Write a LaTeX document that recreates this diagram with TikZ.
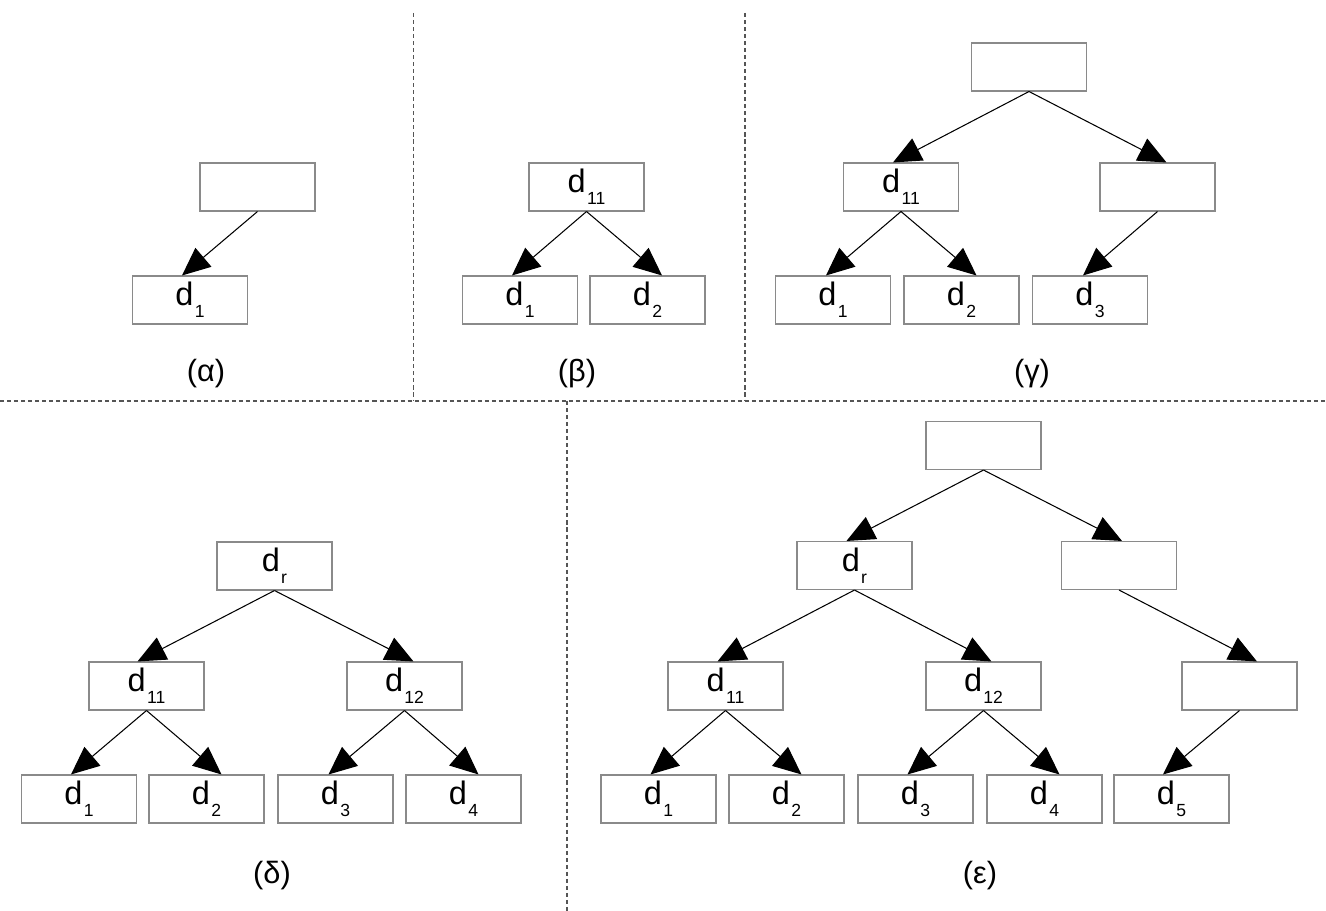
\documentclass[tikz,border=0pt]{standalone}
\usepackage{fontspec}
\setmainfont{Liberation Sans}
\usetikzlibrary{arrows.meta,calc}
\definecolor{boxgray}{HTML}{8A8A8A}
\definecolor{sepgray}{HTML}{555555}
\newcommand{\dsub}[1]{d\kern0.7pt\raisebox{-6.8pt}{\fontsize{10}{11}\selectfont #1}}
\begin{document}
\begin{tikzpicture}[x=0.02cm,y=-0.02cm,
  box/.style={draw=boxgray, line width=0.6pt, minimum width=2.3cm, minimum height=0.96cm, inner sep=0pt, font=\fontsize{18.5}{20}\selectfont},
  arr/.style={-{Triangle[length=16pt,width=14pt]}, line width=0.6pt},
  sep/.style={draw=sepgray, line width=0.6pt, dash pattern=on 2.3pt off 1.7pt},
  lab/.style={font=\fontsize{17.5}{20}\selectfont}]
\useasboundingbox (0,0) rectangle (1326,911);

% separators
\draw[sep] (413.5,13) -- (413.5,401);
\draw[sep] (745,13) -- (745,401);
\draw[sep] (0,401) -- (1326,401);
\draw[sep] (567,401) -- (567,911);

% (alpha)
\node[box] (aT) at (257.5,187) {};
\node[box] (a1) at (190,300) {\dsub{1}};
\draw[arr] (aT.south) -- ($(a1.north)+(-8,0)$);
\node[lab] (la) at (206,374) {(α)};

% (beta)
\node[box] (bT) at (586.5,187) {\dsub{11}};
\node[box] (b1) at (520,300) {\dsub{1}};
\node[box] (b2) at (647.5,300) {\dsub{2}};
\draw[arr] (bT.south) -- ($(b1.north)+(-8,0)$);
\draw[arr] (bT.south) -- ($(b2.north)+(14.5,0)$);
\node[lab] (lb) at (577,374) {(β)};

% (gamma)
\node[box] (gT) at (1029,67) {};
\node[box] (g11) at (901,187) {\dsub{11}};
\node[box] (gR) at (1157.5,187) {};
\node[box] (g1) at (833,300) {\dsub{1}};
\node[box] (g2) at (961.5,300) {\dsub{2}};
\node[box] (g3) at (1090,300) {\dsub{3}};
\draw[arr] (gT.south) -- ($(g11.north)+(-8,0)$);
\draw[arr] (gT.south) -- ($(gR.north)+(9,0)$);
\draw[arr] (g11.south) -- ($(g1.north)+(-7,0)$);
\draw[arr] (g11.south) -- ($(g2.north)+(15,0)$);
\draw[arr] (gR.south) -- ($(g3.north)+(-7,0)$);
\node[lab] (lg) at (1032,374) {(γ)};

% (delta)
\node[box] (dR) at (274.5,566) {\dsub{r}};
\node[box] (d11) at (146.5,686) {\dsub{11}};
\node[box] (d12) at (404.5,686) {\dsub{12}};
\node[box] (d1) at (79,799) {\dsub{1}};
\node[box] (d2) at (206.5,799) {\dsub{2}};
\node[box] (d3) at (335.5,799) {\dsub{3}};
\node[box] (d4) at (463.5,799) {\dsub{4}};
\draw[arr] (dR.south) -- ($(d11.north)+(-9,0)$);
\draw[arr] (dR.south) -- ($(d12.north)+(9,0)$);
\draw[arr] (d11.south) -- ($(d1.north)+(-8,0)$);
\draw[arr] (d11.south) -- ($(d2.north)+(15,0)$);
\draw[arr] (d12.south) -- ($(d3.north)+(-7,0)$);
\draw[arr] (d12.south) -- ($(d4.north)+(15,0)$);
\node[lab] (ld) at (272,876) {(δ)};

% (epsilon)
\node[box] (eT) at (983.5,445.5) {};
\node[box] (eR) at (854.5,565.5) {\dsub{r}};
\node[box] (eS) at (1119,565.5) {};
\node[box] (e11) at (725.5,686) {\dsub{11}};
\node[box] (e12) at (983.5,686) {\dsub{12}};
\node[box] (eU) at (1239.5,686) {};
\node[box] (e1) at (658.5,799) {\dsub{1}};
\node[box] (e2) at (786.5,799) {\dsub{2}};
\node[box] (e3) at (915.5,799) {\dsub{3}};
\node[box] (e4) at (1044.5,799) {\dsub{4}};
\node[box] (e5) at (1171.5,799) {\dsub{5}};
\draw[arr] (eT.south) -- ($(eR.north)+(-8,0)$);
\draw[arr] (eT.south) -- ($(eS.north)+(3,0)$);
\draw[arr] (eR.south) -- ($(e11.north)+(-8,0)$);
\draw[arr] (eR.south) -- ($(e12.north)+(8,0)$);
\draw[arr] (e11.south) -- ($(e1.north)+(-8,0)$);
\draw[arr] (e11.south) -- ($(e2.north)+(15,0)$);
\draw[arr] (e12.south) -- ($(e3.north)+(-8,0)$);
\draw[arr] (e12.south) -- ($(e4.north)+(15,0)$);
\draw[arr] (eS.south) -- ($(eU.north)+(17.5,0)$);
\draw[arr] (eU.south) -- ($(e5.north)+(-8.5,0)$);
\node[lab] (le) at (980,876) {(ε)};
\end{tikzpicture}
\end{document}
